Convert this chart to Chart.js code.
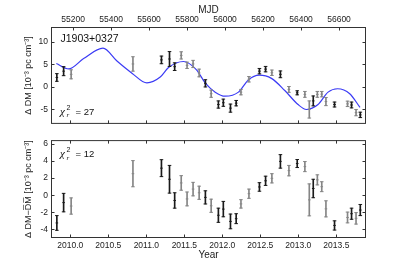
<!DOCTYPE html>
<html><head><meta charset="utf-8">
<script src="https://cdn.jsdelivr.net/npm/chart.js@4/dist/chart.umd.min.js"></script>
<style>
html,body{margin:0;padding:0;background:#fff;width:407px;height:265px;overflow:hidden}
#c1{position:absolute;left:0;top:0}
#c2{position:absolute;left:0;top:132px}
</style></head><body>
<canvas id="c1" width="407" height="132"></canvas>
<canvas id="c2" width="407" height="133"></canvas>
<script>
// ---- data ----
const years = [2009.823, 2009.912, 2010.011, 2010.824, 2011.199, 2011.305, 2011.373, 2011.459, 2011.536, 2011.615, 2011.695, 2011.777, 2011.853, 2011.948, 2012.013, 2012.107, 2012.182, 2012.245, 2012.350, 2012.488, 2012.569, 2012.652, 2012.764, 2012.876, 2012.985, 2013.086, 2013.144, 2013.196, 2013.250, 2013.308, 2013.363, 2013.476, 2013.647, 2013.700, 2013.759, 2013.815];
const dm = [2.1, 3.5, 2.8, 5.1, 6.0, 6.2, 4.5, 7.0, 4.8, 5.1, 3.1, 0.8, -1.5, -3.9, -3.5, -4.7, -3.6, -1.15, 1.7, 3.5, 3.95, 3.15, 2.8, -0.55, -1.3, -1.65, -5.0, -3.1, -1.65, -1.6, -3.25, -3.9, -3.75, -4.0, -5.7, -6.2];
const dmErr = [0.85, 1.0, 1.0, 1.6, 0.85, 1.65, 0.85, 0.8, 0.7, 0.8, 0.85, 0.8, 0.8, 0.8, 0.8, 0.9, 0.6, 0.6, 0.6, 0.6, 0.6, 0.6, 0.75, 0.65, 0.45, 0.65, 1.9, 1.1, 0.65, 0.6, 0.9, 0.55, 0.6, 0.65, 0.7, 0.6];
const resid = [-3.24, -0.86, -1.26, 2.52, 3.17, 1.87, -0.61, 1.44, -0.43, 0.72, 0.29, -0.25, -1.23, -2.34, -1.62, -3.06, -2.74, -1.01, 0.18, 0.97, 1.69, 1.98, 3.96, 2.88, 3.71, 3.35, -0.54, 0.79, 1.8, 1.0, -1.59, -3.53, -2.6, -2.16, -2.7, -1.73];
const residErr = [0.86, 1.08, 0.95, 1.53, 0.99, 1.62, 0.9, 0.85, 0.81, 0.79, 0.77, 0.77, 0.77, 0.83, 0.9, 0.86, 0.58, 0.49, 0.54, 0.5, 0.54, 0.54, 0.79, 0.61, 0.47, 0.59, 1.87, 1.08, 0.59, 0.58, 0.94, 0.54, 0.63, 0.65, 0.67, 0.65];
const group = [0,0,1,1,0,0,0,1,1,1,1,0,1,0,0,0,0,1,1,0,0,1,0,1,0,1,1,0,1,1,1,0,1,0,1,0];
const modelYears = [2009.816, 2009.978, 2010.175, 2010.430, 2010.61, 2010.815, 2011.008, 2011.183, 2011.292, 2011.489, 2011.66, 2011.774, 2011.906, 2012.037, 2012.212, 2012.343, 2012.484, 2012.646, 2012.822, 2012.996, 2013.106, 2013.259, 2013.391, 2013.516, 2013.676, 2013.811];
const modelDM = [5.2, 4.0, 6.3, 8.6, 5.8, 3.0, 0.9, 2.2, 4.3, 5.65, 3.8, 0.9, -1.15, -2.05, -1.15, 1.55, 2.6, 1.9, -0.8, -3.9, -5.0, -3.9, -1.15, -0.4, -1.5, -4.55];
const mjdTicks = [55200, 55400, 55600, 55800, 56000, 56200, 56400, 56600];
const yearTicks = [2010.0, 2010.5, 2011.0, 2011.5, 2012.0, 2012.5, 2013.0, 2013.5];
const dmTicks = [-5, 0, 5, 10];
const residTicks = [-4, -2, 0, 2, 4, 6];
const chi2Top = 27, chi2Bottom = 12;
const pulsarName = 'J1903+0327';

// ---- styling ----
const FONT = "'Liberation Sans', Arial, Helvetica, sans-serif";
Chart.defaults.font.family = FONT;
Chart.defaults.color = '#222';
const COLS = ['#1a1a1a', '#858585'];
const colOf = i => COLS[group[i % group.length]];

function errorDatasets(xs, vals, errs, yID) {
  const caps = [];
  xs.forEach((x, i) => caps.push({x, y: vals[i] - errs[i]}));
  xs.forEach((x, i) => caps.push({x, y: vals[i] + errs[i]}));
  return [
    {type: 'bar', yAxisID: yID, xAxisID: 'x', grouped: false, barThickness: 1, borderWidth: 0,
     data: xs.map((x, i) => ({x, y: [vals[i] - errs[i], vals[i] + errs[i]]})),
     backgroundColor: c => colOf(c.dataIndex), order: 2},
    {type: 'scatter', yAxisID: yID, xAxisID: 'x', data: caps, pointStyle: 'line', pointRadius: 1.8,
     borderWidth: 1, borderColor: c => colOf(c.dataIndex), backgroundColor: c => colOf(c.dataIndex), order: 1},
    {type: 'scatter', yAxisID: yID, xAxisID: 'x', data: xs.map((x, i) => ({x, y: vals[i]})), pointStyle: 'line',
     pointRadius: 1.3, borderWidth: 1, borderColor: c => colOf(c.dataIndex), backgroundColor: c => colOf(c.dataIndex), order: 1}
  ];
}

const setTicks = arr => scale => { scale.ticks = arr.map(v => ({value: v})); };

function framePlugin(tickSpecs, texts) {
  return {
    id: 'frame',
    afterDatasetsDraw(chart) {
      const {ctx, chartArea: a} = chart;
      ctx.save();
      ctx.strokeStyle = '#333';
      ctx.lineWidth = 1;
      ctx.strokeRect(a.left + 0.5, a.top + 0.5, a.right - a.left - 1, a.bottom - a.top - 1);
      const L = 3.5;
      ctx.beginPath();
      tickSpecs.forEach(s => {
        const sc = chart.scales[s.id];
        s.values.forEach(v => {
          const p = Math.round(sc.getPixelForValue(v)) + 0.5;
          if (s.side === 'top') { ctx.moveTo(p, a.top); ctx.lineTo(p, a.top + L); }
          if (s.side === 'bottom') { ctx.moveTo(p, a.bottom); ctx.lineTo(p, a.bottom - L); }
          if (s.side === 'left') { ctx.moveTo(a.left, p); ctx.lineTo(a.left + L, p); }
          if (s.side === 'right') { ctx.moveTo(a.right, p); ctx.lineTo(a.right - L, p); }
        });
      });
      ctx.stroke();
      ctx.fillStyle = '#111';
      texts.forEach(t => t(ctx, a));
      ctx.restore();
    }
  };
}

function drawChi(ctx, x, y, val) {
  ctx.textBaseline = 'alphabetic';
  ctx.textAlign = 'left';
  ctx.font = "italic 11px 'Liberation Serif', 'DejaVu Serif', serif";
  ctx.fillText('\u03C7', x, y);
  ctx.font = "italic 7px 'Liberation Serif', serif";
  ctx.fillText('r', x + 6.5, y + 2.5);
  ctx.font = "7px " + FONT;
  ctx.fillText('2', x + 6.5, y - 5);
  ctx.font = "9.5px " + FONT;
  ctx.fillText('= ' + val, x + 15.5, y);
}

const common = {
  responsive: false, animation: false, devicePixelRatio: 1,
  plugins: {legend: {display: false}, tooltip: {enabled: false}},
  events: []
};

// ---- top panel ----
new Chart(document.getElementById('c1'), {
  type: 'scatter',
  data: {datasets: [
    {type: 'line', xAxisID: 'x', yAxisID: 'y', data: modelYears.map((x, i) => ({x, y: modelDM[i]})),
     borderColor: '#3b3bf5', borderWidth: 1.2, pointRadius: 0, cubicInterpolationMode: 'monotone', fill: false, order: 5},
    ...errorDatasets(years, dm, dmErr, 'y')
  ]},
  options: {
    ...common,
    layout: {padding: {left: 0, right: 41, top: 0, bottom: 0}},
    scales: {
      x: {type: 'linear', position: 'bottom', min: 2009.746, max: 2013.89, offset: false,
          afterBuildTicks: setTicks(yearTicks), afterFit: s => { s.height = 0; },
          ticks: {display: false}, grid: {display: false, drawTicks: false}, border: {display: false}},
      xTop: {type: 'linear', position: 'top', min: 55084, max: 56742, offset: false,
          afterBuildTicks: setTicks(mjdTicks), afterFit: s => { s.height = 27; },
          ticks: {font: {size: 8.5}, padding: 2, maxRotation: 0, callback: v => String(v)},
          grid: {display: false, drawTicks: false}, border: {display: false},
          title: {display: true, text: 'MJD', font: {size: 10}, padding: {top: 4.5, bottom: 0}}},
      y: {type: 'linear', position: 'left', min: -8.2, max: 13.3,
          afterBuildTicks: setTicks(dmTicks), afterFit: s => { s.width = 51; },
          ticks: {font: {size: 8.5}, padding: 3},
          grid: {display: false, drawTicks: false}, border: {display: false},
          title: {display: true, text: '\u0394 DM [10\u207B\u00B3 pc cm\u207B\u00B3]', font: {size: 9}, padding: {top: 23.5, bottom: 0}}}
    }
  },
  plugins: [framePlugin([
    {id: 'x', side: 'bottom', values: yearTicks},
    {id: 'xTop', side: 'top', values: mjdTicks},
    {id: 'y', side: 'left', values: dmTicks},
    {id: 'y', side: 'right', values: dmTicks}
  ], [
    (ctx, a) => { ctx.font = '10.5px ' + FONT; ctx.textBaseline = 'middle'; ctx.textAlign = 'left'; ctx.fillText(pulsarName, a.left + 9.5, a.top + 12); },
    (ctx, a) => drawChi(ctx, a.left + 9, a.bottom - 9, chi2Top)
  ])]
});

// ---- bottom panel ----
new Chart(document.getElementById('c2'), {
  type: 'scatter',
  data: {datasets: errorDatasets(years, resid, residErr, 'y')},
  options: {
    ...common,
    layout: {padding: {left: 0, right: 41, top: 0, bottom: 0}},
    scales: {
      x: {type: 'linear', position: 'bottom', min: 2009.746, max: 2013.89, offset: false,
          afterBuildTicks: setTicks(yearTicks), afterFit: s => { s.height = 27; },
          ticks: {font: {size: 8.5}, padding: 3, maxRotation: 0, callback: v => Number(v).toFixed(1)},
          grid: {display: false, drawTicks: false}, border: {display: false},
          title: {display: true, text: 'Year', font: {size: 10}, padding: {top: 0, bottom: 4}}},
      y: {type: 'linear', position: 'left', min: -5, max: 6.45,
          afterBuildTicks: setTicks(residTicks), afterFit: s => { s.width = 51; },
          ticks: {font: {size: 8.5}, padding: 3},
          grid: {display: false, drawTicks: false}, border: {display: false},
          title: {display: true, text: '\u0394 DM\u2212D\u0305M\u0305 [10\u207B\u00B3 pc cm\u207B\u00B3]', font: {size: 9}, padding: {top: 23.5, bottom: 0}}}
    }
  },
  plugins: [framePlugin([
    {id: 'x', side: 'bottom', values: yearTicks},
    {id: 'x', side: 'top', values: yearTicks},
    {id: 'y', side: 'left', values: residTicks},
    {id: 'y', side: 'right', values: residTicks}
  ], [
    (ctx, a) => drawChi(ctx, a.left + 9, a.top + 17, chi2Bottom)
  ])]
});
</script>
</body></html>
